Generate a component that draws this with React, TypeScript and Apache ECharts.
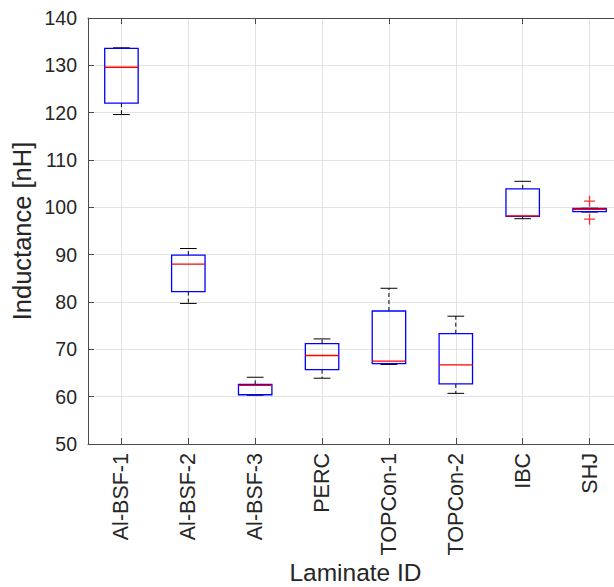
import React, { useEffect, useRef } from "react";
import * as echarts from "echarts";

const categories = ["Al-BSF-1", "Al-BSF-2", "Al-BSF-3", "PERC", "TOPCon-1", "TOPCon-2", "IBC", "SHJ"];
const lowerWhisker = [119.6, 79.7, 60.3, 63.9, 66.8, 60.7, 97.6, 99.0];
const q1 = [122.0, 82.2, 60.4, 65.7, 67.0, 62.7, 98.1, 99.1];
const median = [129.6, 88.0, 62.4, 68.7, 67.5, 66.7, 98.2, 99.6];
const q3 = [133.6, 89.9, 62.6, 71.2, 78.1, 73.3, 103.9, 99.8];
const upperWhisker = [133.7, 91.3, 64.1, 72.2, 82.9, 77.0, 105.5, 99.8];
const outliers: [number, number][] = [
  [7, 101.3],
  [7, 97.5],
];
const yTicks = { min: 50, max: 140, interval: 10 };

const FONT = "'Liberation Sans', Arial, Helvetica, sans-serif";
const TEXT = "#262626";
const AXIS = "#4a4a4a";
const GRID = "#e3e3e3";

export default function App() {
  const ref = useRef<HTMLDivElement>(null);
  useEffect(() => {
    if (!ref.current) return;
    const chart = echarts.init(ref.current, undefined, { renderer: "svg" });
    const boxData = categories.map((_, i) => [i, lowerWhisker[i], q1[i], median[i], q3[i], upperWhisker[i]]);
    const option: any = {
      animation: false,
      backgroundColor: "#fff",
      grid: { left: 88, top: 18, width: 535, height: 426, containLabel: false, outerBoundsMode: "none" },
      xAxis: [
        {
          type: "category",
          data: categories,
          position: "bottom",
          boundaryGap: true,
          name: "Laminate ID",
          nameLocation: "middle",
          nameMoveOverlap: false,
          nameGap: 116,
          nameTextStyle: { fontFamily: FONT, fontSize: 24.5, color: TEXT, verticalAlign: "top", lineHeight: 24 },
          axisLine: { show: true, lineStyle: { color: AXIS, width: 1 } },
          axisTick: { show: true, inside: true, length: 6, alignWithLabel: true, lineStyle: { color: AXIS } },
          axisLabel: { rotate: 90, fontFamily: FONT, fontSize: 21.5, color: TEXT, margin: 9, interval: 0 },
          splitLine: { show: true, alignWithLabel: true, lineStyle: { color: GRID, width: 1 } },
        },
        {
          type: "category",
          data: categories,
          position: "top",
          boundaryGap: true,
          axisLine: { show: true, lineStyle: { color: AXIS, width: 1 } },
          axisTick: { show: true, inside: true, length: 6, alignWithLabel: true, lineStyle: { color: AXIS } },
          axisLabel: { show: false },
          splitLine: { show: false },
        },
      ],
      yAxis: {
        type: "value",
        min: yTicks.min,
        max: yTicks.max,
        interval: yTicks.interval,
        name: "Inductance [nH]",
        nameLocation: "middle",
        nameMoveOverlap: false,
        nameGap: 53,
        nameTextStyle: { fontFamily: FONT, fontSize: 25.5, color: TEXT },
        axisLine: { show: true, lineStyle: { color: AXIS, width: 1 } },
        axisTick: { show: true, inside: true, length: 6, lineStyle: { color: AXIS } },
        axisLabel: { fontFamily: FONT, fontSize: 19.5, color: TEXT, margin: 11 },
        splitLine: { show: true, lineStyle: { color: GRID, width: 1 } },
      },
      series: [
        {
          type: "custom",
          xAxisIndex: 0,
          data: boxData,
          encode: { x: 0, y: [1, 2, 3, 4, 5] },
          renderItem: (params: any, api: any) => {
            const idx = api.value(0);
            const pLo = api.coord([idx, api.value(1)]);
            const pQ1 = api.coord([idx, api.value(2)]);
            const pMed = api.coord([idx, api.value(3)]);
            const pQ3 = api.coord([idx, api.value(4)]);
            const pHi = api.coord([idx, api.value(5)]);
            const band = api.size([1, 0])[0];
            const bw = band * 0.5;
            const cw = band * 0.25;
            const cx = pMed[0];
            const black = { stroke: "#000", lineWidth: 1 };
            return {
              type: "group",
              children: [
                { type: "line", shape: { x1: cx, y1: pQ3[1], x2: cx, y2: pHi[1] }, style: { ...black, lineDash: [4, 3] } },
                { type: "line", shape: { x1: cx, y1: pQ1[1], x2: cx, y2: pLo[1] }, style: { ...black, lineDash: [4, 3] } },
                { type: "line", shape: { x1: cx - cw / 2, y1: pHi[1], x2: cx + cw / 2, y2: pHi[1] }, style: black },
                { type: "line", shape: { x1: cx - cw / 2, y1: pLo[1], x2: cx + cw / 2, y2: pLo[1] }, style: black },
                {
                  type: "rect",
                  shape: { x: cx - bw / 2, y: pQ3[1], width: bw, height: pQ1[1] - pQ3[1] },
                  style: { fill: "none", stroke: "#0000ff", lineWidth: 1.3 },
                },
                {
                  type: "line",
                  shape: { x1: cx - bw / 2, y1: pMed[1], x2: cx + bw / 2, y2: pMed[1] },
                  style: { stroke: "#ff0000", lineWidth: 1.3 },
                },
              ],
            };
          },
        },
        {
          type: "scatter",
          xAxisIndex: 0,
          data: outliers,
          symbol: "path://M0,5L10,5M5,0L5,10",
          symbolSize: 11,
          itemStyle: { color: "transparent", borderColor: "#ff0000", borderWidth: 1.3 },
        },
      ],
    };
    chart.setOption(option);
    return () => chart.dispose();
  }, []);
  return <div ref={ref} style={{ position: "fixed", left: 0, top: 0, width: 614, height: 587 }} />;
}
